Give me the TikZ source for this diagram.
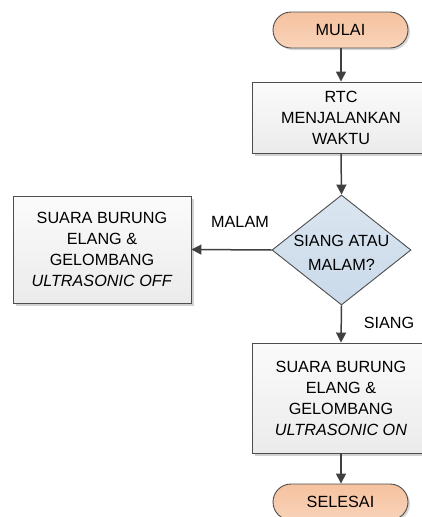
\documentclass[tikz,border=0pt]{standalone}
\usepackage{fontspec}
\setmainfont{Liberation Sans}
\usetikzlibrary{arrows.meta,shapes.geometric,shadows}
\definecolor{edge}{HTML}{4D4D4D}
\definecolor{arrowc}{HTML}{404040}
\definecolor{peachtop}{HTML}{F5C29F}
\definecolor{peachbot}{HTML}{F9D3B9}
\definecolor{bluetop}{HTML}{DAE5F0}
\definecolor{bluebot}{HTML}{CADAEA}
\definecolor{boxtop}{HTML}{FBFBFB}
\definecolor{boxbot}{HTML}{EBEBEB}
\tikzset{
  base/.style={font=\fontsize{16.2}{21}\selectfont, draw=edge, line width=0.9pt, inner sep=0pt, align=center},
  term/.style={base, rounded corners=18pt, minimum width=135pt, minimum height=36pt,
     top color=peachtop, bottom color=peachbot,
     drop shadow={shadow xshift=2pt, shadow yshift=-2pt, fill=gray!60, opacity=.5}},
  procbox/.style={base, rectangle, minimum width=178pt, top color=boxtop, bottom color=boxbot,
     drop shadow={shadow xshift=2.5pt, shadow yshift=-2.5pt, fill=gray!60, opacity=.6}},
  decide/.style={draw=edge, line width=0.9pt, diamond, inner sep=0pt, aspect=1.264,
     minimum width=139pt, minimum height=110pt, top color=bluetop, bottom color=bluebot},
  txt/.style={font=\fontsize{16.2}{21}\selectfont, inner sep=0pt, align=center},
  flow/.style={draw=arrowc, line width=1.5pt, -{Triangle[length=10pt,width=10pt]}}
}
\begin{document}
\begin{tikzpicture}[x=1pt,y=-1pt]
\useasboundingbox (0,0) rectangle (421,517);
\node[term] (mulai) at (340.5,30) {MULAI};
\node[procbox, minimum height=71pt] (rtc) at (341,117.5) {RTC\\MENJALANKAN\\WAKTU};
\node[decide] (dec) at (341.5,250) {};
\node[txt, font=\fontsize{16.2}{23.5}\selectfont] (dectext) at (341.5,253) {SIANG ATAU\\MALAM?};
\node[procbox, minimum height=107pt] (off) at (102,249.5) {SUARA BURUNG\\ELANG \&\\GELOMBANG\\\textit{ULTRASONIC OFF}};
\node[procbox, minimum height=110pt] (on) at (341,398) {SUARA BURUNG\\ELANG \&\\GELOMBANG\\\textit{ULTRASONIC ON}};
\node[term] (selesai) at (340.5,502) {SELESAI};
\node[txt] (malam) at (240,222) {MALAM};
\node[txt] (siang) at (389,322.5) {SIANG};
\draw[flow] (mulai.south -| rtc.north) -- (rtc.north);
\draw[flow] (rtc.south) -- (dec.north);
\draw[flow] (dec.west) -- (off.east);
\draw[flow] (dec.south) -- (on.north);
\draw[flow] (on.south) -- (on.south |- selesai.north);
\end{tikzpicture}
\end{document}
